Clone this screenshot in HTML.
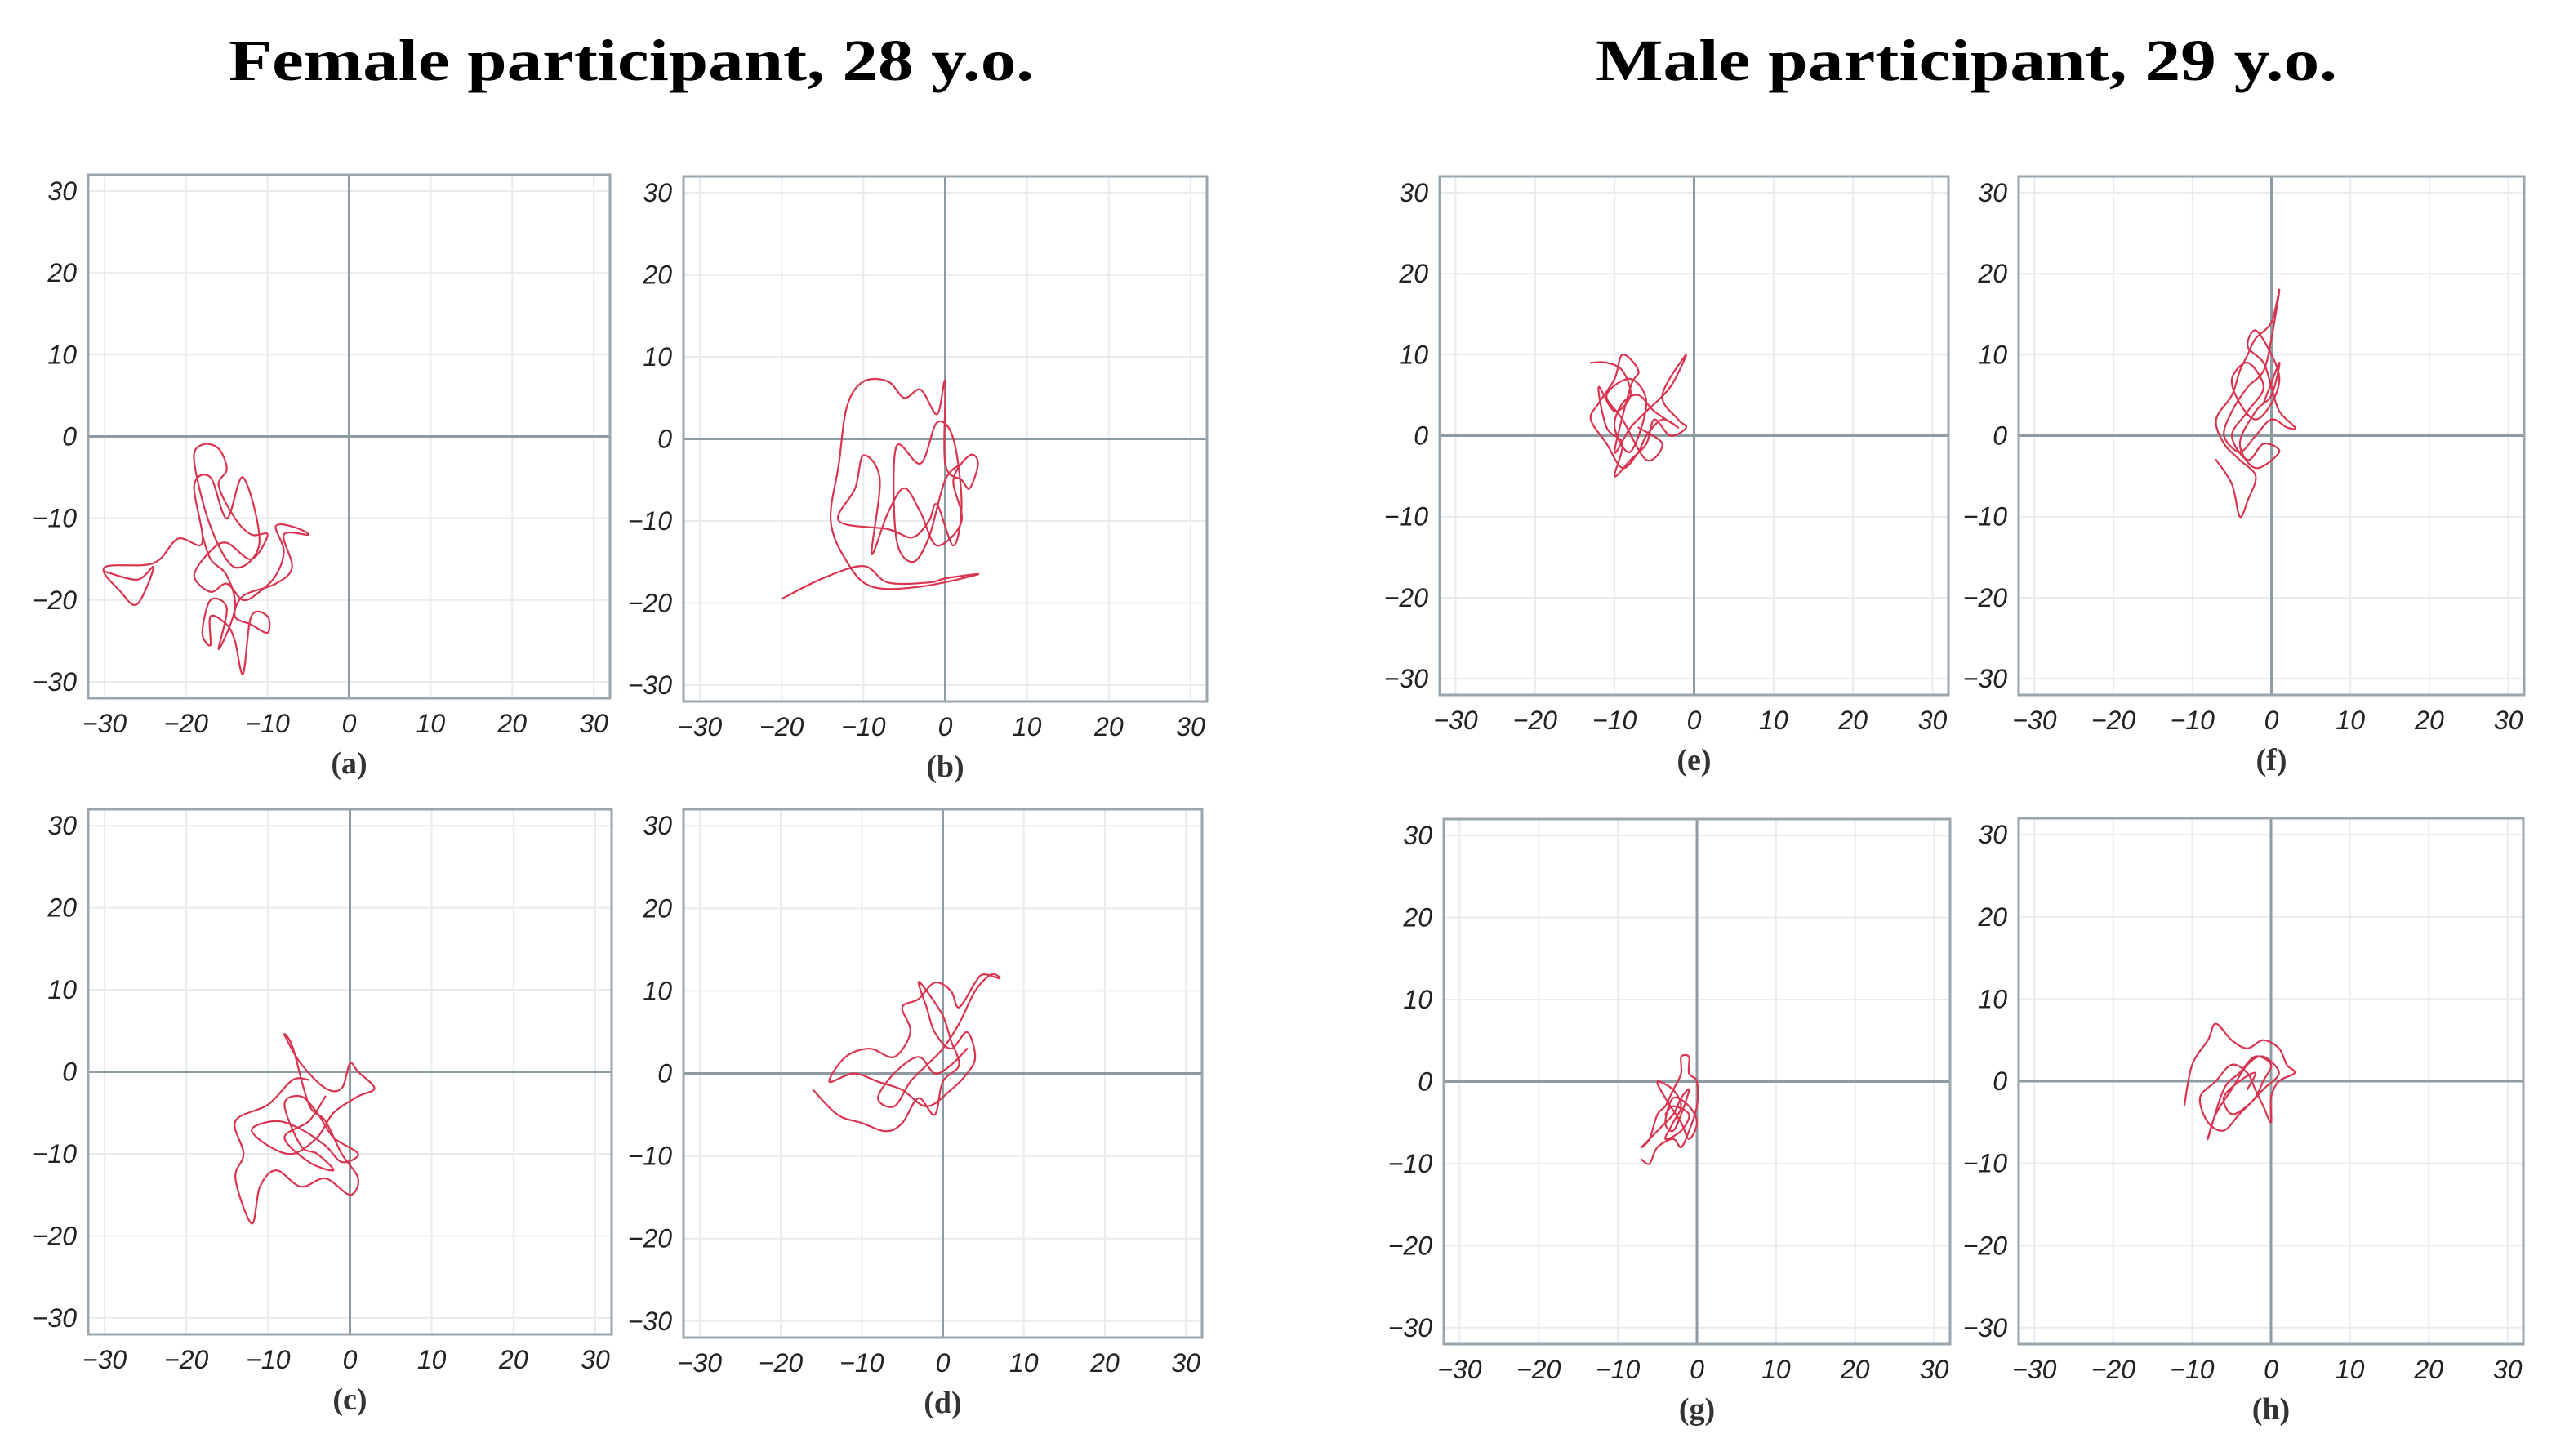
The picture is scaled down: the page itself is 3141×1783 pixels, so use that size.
<!DOCTYPE html>
<html><head><meta charset="utf-8"><style>
html,body{margin:0;padding:0;background:#fff;}
svg{display:block;}
.tick{font-family:"Liberation Sans",sans-serif;font-style:italic;font-size:32px;fill:#222;}
.cap{font-family:"Liberation Serif",serif;font-weight:bold;font-size:38px;fill:#333;}
.title{font-family:"Liberation Serif",serif;font-weight:bold;font-size:72px;fill:#000;}
</style></head><body>
<svg id="fig" width="3141" height="1783" viewBox="0 0 3141 1783" xmlns="http://www.w3.org/2000/svg">
<text class="title" x="280" y="98" textLength="986" lengthAdjust="spacingAndGlyphs">Female participant, 28 y.o.</text>
<text class="title" x="1954" y="98" textLength="908" lengthAdjust="spacingAndGlyphs">Male participant, 29 y.o.</text>
</svg>
<script>
const tickValues=[-30,-20,-10,0,10,20,30];
const tickLabels=["\u221230","\u221220","\u221210","0","10","20","30"];
const domainMin=-32, domainMax=32;

const traceAx=[-30,-26,-24,-26,-28,-30,-24,-21,-18,-19,-17,-15,-13,-11,-14,-17,-19,-18,-16,-15,-16,-14,-12,-10,-12,-15,-17,-19,-17,-15,-13,-11,-9,-8,-9,-7,-5,-8,-7,-9,-13,-14,-12,-10,-10,-12,-13,-14,-15,-17,-17,-18,-17,-15,-16,-14,-15,-17,-18];
const traceAy=[-16.5,-17.5,-16,-20.5,-19,-16,-15.5,-12.5,-13,-6,-5,-10,-5,-13,-16,-11,-3,-1,-1.5,-4,-6,-10,-12,-12,-15,-13,-14,-17,-19,-18,-20,-19,-17,-14,-11,-11,-12,-12,-16,-18,-19.5,-22,-23,-24,-22,-22,-29,-25,-23,-22,-25.5,-24,-20,-21,-26,-21,-17,-15,-12];
const traceBx=[-20,-15,-10,-7,-2,0,4,-3,-9,-12,-14,-13,-12,-10,-7,-5,-3,-1,0,0,2,3,4,3,1,2,-1,-3,-5,-7,-9,-8,-10,-11,-13,-7,-4,-2,-1,1,2,1,-1,-3,-6,-6,-4,-2,0,2];
const traceBy=[-19.5,-17,-15.5,-17.5,-17.5,-17,-16.5,-18,-18,-15,-10,-3,4,7,7,5,6,3,7,-3,-5,-6,-3,-2,-5,-10,-13,-9,-6,-9,-14,-5,-2,-6,-10,-11,-12,-10,-8,-13,-8,0,2,-3,-1,-12,-15,-12,-5,-3];
const traceCx=[-5,-7,-10,-14,-13,-14,-12,-11,-9,-6,-3,0,1,-1,-3,-5,-7,-8,-6,-3,-1,0,1,3,1,-2,-4,-7,-10,-12,-9,-6,-3,-1,1,-2,-4,-6,-8,-6,-4,-2,-5,-8,-5,-3];
const traceCy=[-1,-1,-4,-6,-10,-13,-18.5,-14,-12,-14,-13,-15,-13,-10,-6,-4,3,4.5,1,-2,-2,1,0,-2,-3,-5,-8,-10,-9,-7,-6,-7,-9,-11,-10,-8,-5,-3,-4,-9,-10,-12,-11,-8,-6,-3];
const traceDx=[-16,-13,-10,-7,-5,-3,-1,0,2,1,0,-2,-3,-2,-1,1,3,4,3,1,-2,-5,-8,-11,-14,-12,-9,-6,-4,-5,-3,-1,1,2,4,5,7,6,4,2,0,-2,-4,-6,-8,-6,-3,-1,1,3];
const traceDy=[-2,-5,-6,-7,-6,-3,-5,-1,1,4,7,10,11,8,5,3,5,2,0,-2,-4,-2,-1,0,-1,2,3,2,5,8,9,11,10,8,11,12,11.5,12,10,6,3,1,-1,-4,-3,0,2,0,1,3];
const traceEx=[-13,-11,-9,-8,-10,-12,-11,-9,-10,-8,-6,-5,-3,-1,-2,-4,-1,-3,-6,-8,-10,-8,-7,-9,-10,-12,-13,-11,-9,-7,-6,-4,-2,-5,-7,-9,-10,-8,-6,-8,-11,-9,-6,-4,-7];
const traceEy=[9,9,8,5,3,6,1,-1,-5,-3,-1,2,0,1,2,5,10,6,3,1,-2,6,8,10,7,4,2,-1,-4,-2,0,2,1,3,5,4,1,-2,4,7,5,2,-3,-1,1];
const traceFx=[-7,-5,-4,-3,-2,-4,-6,-7,-5,-4,-3,-2,0,1,0,-1,-3,-5,-6,-4,-2,0,2,3,1,0,-1,-3,-2,0,1,0,-2,-4,-5,-3,-1,-3,-5,-3,-1,1,-2,-4,-2,0,1,-1];
const traceFy=[-3,-6,-10,-8,-5,-3,-1,2,5,8,10,12,14,18,12,8,6,3,0,-2,0,2,1,1,3,6,9,11,13,10,7,4,2,4,7,9,6,3,0,-3,-1,-2,-4,-1,3,5,9,4];
const traceGx=[-7,-6,-5,-3,-2,-1,0,0,-1,-1,-2,-2,-3,-4,-5,-6,-7,-5,-3,-2,-1,-2,-3,-4,-3,-1,0,-1,-2,-4,-5,-3,-2,-3,-4,-2,-1,-3,-4];
const traceGy=[-9.5,-10,-8,-7,-8,-6,-3,0,1,3,3,1,-1,-3,-4,-7,-8,-6,-4,-2,-1,-4,-6,-5,-2,-3,-5,-7,-5,-2,0,-1,-3,-5,-7,-6,-4,-3,-4];
const traceHx=[-11,-10,-8,-7,-5,-3,-1,1,2,3,1,0,0,-1,-2,-3,-5,-7,-9,-8,-6,-4,-2,-1,0,-2,-4,-6,-8,-7,-5,-3,-1,1,-1,-3,-5,-6,-4,-2,-3];
const traceHy=[-3,2,5,7,5,4,5,4,2,1,0,-2,-5,-3,-1,1,2,0,-2,-5,-6,-4,-2,0,2,3,1,-1,-7,-4,-1,2,3,1,-1,-3,-4,-2,0,1,-1];

const panels=[
 {id:"a",x:108,y:214,w:639,h:641,tx:traceAx,ty:traceAy},
 {id:"b",x:837,y:216,w:641,h:643,tx:traceBx,ty:traceBy},
 {id:"c",x:108,y:991,w:641,h:643,tx:traceCx,ty:traceCy},
 {id:"d",x:837,y:991,w:635,h:647,tx:traceDx,ty:traceDy},
 {id:"e",x:1763,y:216,w:623,h:635,tx:traceEx,ty:traceEy},
 {id:"f",x:2472,y:216,w:619,h:635,tx:traceFx,ty:traceFy},
 {id:"g",x:1768,y:1003,w:620,h:643,tx:traceGx,ty:traceGy},
 {id:"h",x:2472,y:1002,w:618,h:644,tx:traceHx,ty:traceHy}
];
const NS="http://www.w3.org/2000/svg";
const svg=document.getElementById('fig');
function mk(tag,attrs,parent){const e=document.createElementNS(NS,tag);for(const k in attrs)e.setAttribute(k,attrs[k]);parent.appendChild(e);return e;}
panels.forEach(p=>{
 const sx=v=>p.x+(v-domainMin)/(domainMax-domainMin)*p.w;
 const sy=v=>p.y+p.h-(v-domainMin)/(domainMax-domainMin)*p.h;
 const g=mk('g',{},svg);
 
 
 tickValues.forEach(v=>{
  if(v===0)return;
  const gl=mk('line',{x1:sx(v),x2:sx(v),y1:p.y,y2:p.y+p.h,stroke:'#e8ecef','stroke-width':2},g);
  
  
  const gl2=mk('line',{x1:p.x,x2:p.x+p.w,y1:sy(v),y2:sy(v),stroke:'#e8ecef','stroke-width':2},g);
  
  
 });
 const ax=mk('line',{x1:sx(0),x2:sx(0),y1:p.y,y2:p.y+p.h,stroke:'#8d9ba3','stroke-width':3},g);
 
 
 const ay=mk('line',{x1:p.x,x2:p.x+p.w,y1:sy(0),y2:sy(0),stroke:'#8d9ba3','stroke-width':3},g);
 
 
 const fr=mk('rect',{x:p.x,y:p.y,width:p.w,height:p.h,fill:'none',stroke:'#9aa6ad','stroke-width':3},g);
 
 
 tickValues.forEach((v,i)=>{
  const t=mk('text',{x:p.x-14,y:sy(v)+11,'text-anchor':'end',class:'tick'},g);
  t.textContent=tickLabels[i];
  
  
  const t2=mk('text',{x:sx(v),y:p.y+p.h+42,'text-anchor':'middle',class:'tick'},g);
  t2.textContent=tickLabels[i];
  
  
 });
 const pts=p.tx.map((v,i)=>[sx(v),sy(p.ty[i])]);
 let d='M'+pts[0][0].toFixed(1)+' '+pts[0][1].toFixed(1);
 for(let i=0;i<pts.length-1;i++){
  const p0=pts[Math.max(i-1,0)],p1=pts[i],p2=pts[i+1],p3=pts[Math.min(i+2,pts.length-1)];
  const c1x=p1[0]+(p2[0]-p0[0])/6,c1y=p1[1]+(p2[1]-p0[1])/6;
  const c2x=p2[0]-(p3[0]-p1[0])/6,c2y=p2[1]-(p3[1]-p1[1])/6;
  d+='C'+c1x.toFixed(1)+' '+c1y.toFixed(1)+' '+c2x.toFixed(1)+' '+c2y.toFixed(1)+' '+p2[0].toFixed(1)+' '+p2[1].toFixed(1);
 }
 const path=mk('path',{d:d,fill:'none',stroke:'#d8344f','stroke-width':2.2,'stroke-linejoin':'round','stroke-linecap':'round'},g);
 
 
 const c=mk('text',{x:sx(0),y:p.y+p.h+92,'text-anchor':'middle',class:'cap'},g);
 c.textContent='('+p.id+')';
 
 
});
</script>
</body></html>
